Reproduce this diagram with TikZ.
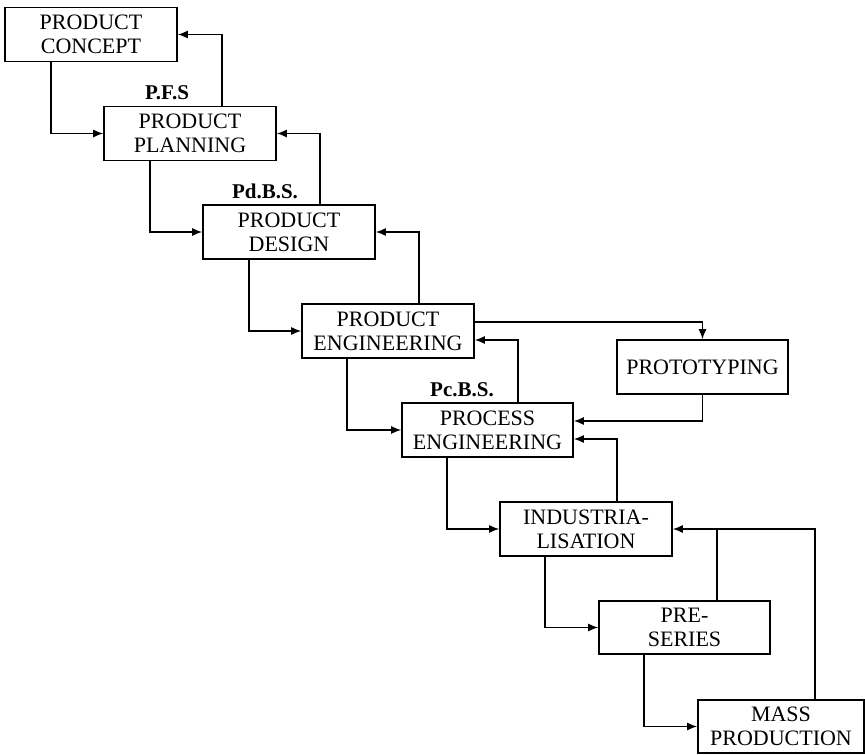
\documentclass[tikz,border=0pt]{standalone}
\usepackage{fontspec}
\setmainfont{Liberation Serif}
\usetikzlibrary{arrows.meta}
\begin{document}
\begin{tikzpicture}[x=1pt,y=-1pt,
  box/.style={draw,line width=1.6pt,minimum width=172pt,minimum height=54pt,inner sep=0pt,align=center,font=\fontsize{22}{24}\selectfont},
  lbl/.style={font=\fontsize{21}{24}\selectfont\bfseries,anchor=base,inner sep=0pt},
  conn/.style={line width=1.4pt},
  arr/.style={conn,-{Latex[length=10pt,width=8pt]}}]
\useasboundingbox (0,0) rectangle (865,755);
\node[box] (concept) at (91,34.5) {PRODUCT\\CONCEPT};
\node[box] (planning) at (190,133.5) {PRODUCT\\PLANNING};
\node[box] (design) at (289,232) {PRODUCT\\DESIGN};
\node[box] (eng) at (388,331) {PRODUCT\\ENGINEERING};
\node[box,minimum width=171pt] (proto) at (702.5,367) {PROTOTYPING};
\node[box,minimum width=171pt] (process) at (487.5,430) {PROCESS\\ENGINEERING};
\node[box] (ind) at (586,529) {INDUSTRIA-\\LISATION};
\node[box,minimum width=171pt,minimum height=53pt] (pre) at (684.5,627.5) {PRE-\\SERIES};
\node[box,minimum width=166pt,minimum height=53pt] (mass) at (781,726.5) {MASS\\PRODUCTION};
\node[lbl] (pfs) at (167,99) {P.F.S};
\node[lbl] (pdbs) at (265,198) {Pd.B.S.};
\node[lbl] (pcbs) at (462,396) {Pc.B.S.};
% forward flow
\draw[arr] (concept.south -| 51,0) |- (planning.west);
\draw[arr] (planning.south -| 150,0) |- (design.west);
\draw[arr] (design.south -| 249,0) |- (eng.west);
\draw[arr] (eng.south -| 347,0) |- (process.west);
\draw[arr] (process.south -| 447,0) |- (ind.west);
\draw[arr] (ind.south -| 545,0) |- (pre.west);
\draw[arr] (pre.south -| 644,0) |- (mass.west);
% feedback
\draw[arr] (planning.north -| 222,0) |- (concept.east);
\draw[arr] (design.north -| 320,0) |- (planning.east);
\draw[arr] (eng.north -| 419,0) |- (design.east);
\draw[arr] (process.north -| 518,0) |- (eng.east |- 0,340);
\draw[arr] (ind.north -| 617,0) |- (process.east |- 0,439);
\coordinate (j) at (717,529);
\draw[arr] (mass.north -| 815,0) |- (ind.east);
\draw[conn] (pre.north -| j) -- (j);
% prototyping
\draw[arr] (eng.east |- 0,322) -| (proto.north);
\draw[arr] (proto.south) |- (process.east |- 0,421);
\end{tikzpicture}
\end{document}
